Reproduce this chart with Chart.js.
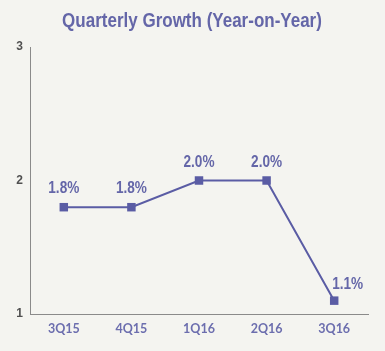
<!DOCTYPE html>
<html>
<head>
<meta charset="utf-8">
<script src="https://cdn.jsdelivr.net/npm/chart.js@4"></script>
<style>
  html, body { margin: 0; padding: 0; background: #f4f4f0; }
  #wrap { width: 385px; height: 351px; }
</style>
</head>
<body>
<div id="wrap"><canvas id="growth-chart"></canvas></div>
<script>
// Chart data
const quarters = ["3Q15", "4Q15", "1Q16", "2Q16", "3Q16"];
const growth = [1.8, 1.8, 2.0, 2.0, 1.1];
const yTicks = [1, 2, 3];
const titleText = "Quarterly Growth (Year-on-Year)";

const purple = "#5a5ca4";
const textPurple = "#6466a8";

// Condensed text: squeeze a normal bold face horizontally
function narrowText(ctx, text, x, y, align, squeeze) {
  const w = ctx.measureText(text).width * squeeze;
  let left = x;
  if (align === "center") left = x - w / 2;
  ctx.save();
  ctx.translate(left, y);
  ctx.scale(squeeze, 1);
  ctx.textAlign = "left";
  ctx.fillText(text, 0, 0);
  ctx.restore();
}

// Title and value labels
const labelsPlugin = {
  id: "labelsPlugin",
  afterDatasetsDraw(chart) {
    const ctx = chart.ctx;
    ctx.save();
    ctx.fillStyle = textPurple;
    ctx.textBaseline = "alphabetic";

    ctx.font = "bold 20px 'Liberation Sans', Arial, sans-serif";
    narrowText(ctx, titleText, 192, 27, "center", 0.85);

    const meta = chart.getDatasetMeta(0);
    ctx.font = "bold 16px 'Liberation Sans', Arial, sans-serif";
    meta.data.forEach((pt, i) => {
      const text = growth[i].toFixed(1) + "%";
      if (i === meta.data.length - 1) {
        narrowText(ctx, text, pt.x - 2, pt.y - 12, "left", 0.85);
      } else {
        narrowText(ctx, text, pt.x, pt.y - 14, "center", 0.85);
      }
    });
    ctx.restore();
  }
};

const ctx = document.getElementById("growth-chart").getContext("2d");
new Chart(ctx, {
  type: "line",
  data: {
    labels: quarters,
    datasets: [
      {
        data: growth,
        borderColor: purple,
        borderWidth: 2,
        pointStyle: "rect",
        pointRadius: 6,
        pointBackgroundColor: purple,
        pointBorderColor: purple,
        pointBorderWidth: 0,
        tension: 0,
      },
    ],
  },
  options: {
    responsive: true,
    maintainAspectRatio: false,
    animation: false,
    layout: { padding: { left: 0, right: 17, top: 47, bottom: 0 } },
    plugins: {
      legend: { display: false },
      tooltip: { enabled: false },
      title: { display: false },
    },
    scales: {
      x: {
        offset: true,
        grid: { display: false, drawTicks: false },
        border: { display: true, color: "#8a8a8a", width: 1 },
        ticks: {
          color: "#6c6eae",
          font: { family: "Lato, sans-serif", size: 12.5, weight: "bold" },
          padding: 7,
          maxRotation: 0,
        },
        afterFit: (s) => { s.height = 37; },
      },
      y: {
        min: 1,
        max: 3,
        afterBuildTicks: (s) => { s.ticks = yTicks.map((v) => ({ value: v })); },
        grid: { display: false, drawTicks: false },
        border: { display: true, color: "#8a8a8a", width: 1 },
        ticks: {
          color: "#505050",
          font: { family: "'Liberation Sans', Arial, sans-serif", size: 12, weight: "bold" },
          padding: 7,
          callback: (v) => v,
        },
        afterFit: (s) => { s.width = 30; },
      },
    },
  },
  plugins: [labelsPlugin],
});
</script>
</body>
</html>
